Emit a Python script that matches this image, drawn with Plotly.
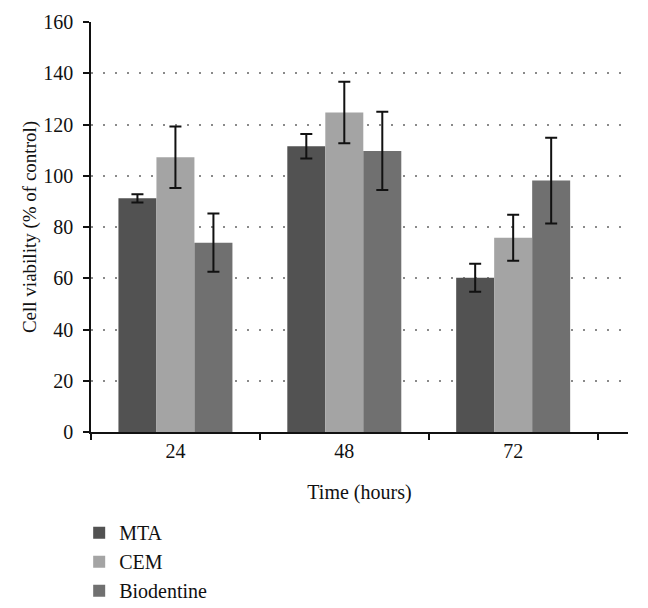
import plotly.graph_objects as go

categories = ["24", "48", "72"]
series_names = ["MTA", "CEM", "Biodentine"]
mta = [91.2, 111.5, 60.2]
mta_err = [1.6, 4.8, 5.5]
cem = [107.2, 124.7, 75.8]
cem_err = [12.0, 12.0, 9.0]
bio = [73.9, 109.7, 98.1]
bio_err = [11.4, 15.3, 16.7]
y_ticks = [0, 20, 40, 60, 80, 100, 120, 140, 160]

colors = ["#525252", "#a4a4a4", "#707070"]
font_family = "Liberation Serif, Times New Roman, serif"

fig = go.Figure()
for name, vals, errs, col in zip(series_names, [mta, cem, bio], [mta_err, cem_err, bio_err], colors):
    fig.add_trace(go.Bar(
        x=categories, y=vals, name=name,
        marker=dict(color=col, line=dict(width=0)),
        error_y=dict(type="data", array=errs, visible=True, color="#111111", thickness=2, width=6),
    ))

fig.update_layout(
    width=640, height=600,
    margin=dict(l=83, r=20, t=14, b=176, autoexpand=False),
    paper_bgcolor="white", plot_bgcolor="white",
    barmode="group", bargap=0.325, bargroupgap=0,
    font=dict(family=font_family, size=20, color="#111111"),
    showlegend=True,
    legend=dict(x=-0.022, xanchor="left", y=-0.198, yanchor="top",
                font=dict(family=font_family, size=20, color="#111111"),
                tracegroupgap=0),
    xaxis=dict(
        type="category", range=[-0.5, 2.68], automargin=False,
        showline=True, linecolor="#111111", linewidth=1.5,
        ticks="outside", tickson="boundaries", ticklen=6, tickwidth=1.5, tickcolor="#111111",
        showgrid=False, zeroline=False,
        title=dict(text="Time (hours)", standoff=24, font=dict(size=20)),
        tickfont=dict(size=20),
    ),
    yaxis=dict(
        range=[0, 160], tickvals=y_ticks, automargin=False,
        showline=True, linecolor="#111111", linewidth=1.5,
        ticks="outside", ticklen=6, tickwidth=1.5, tickcolor="#111111",
        ticklabelstandoff=6,
        showgrid=True, gridcolor="#8a8a8a", gridwidth=1.5, griddash="2px,10px",
        zeroline=False,
        title=dict(text="Cell viability (% of control)", standoff=2, font=dict(size=19)),
        tickfont=dict(size=20),
    ),
)

fig.write_html("out.html")
